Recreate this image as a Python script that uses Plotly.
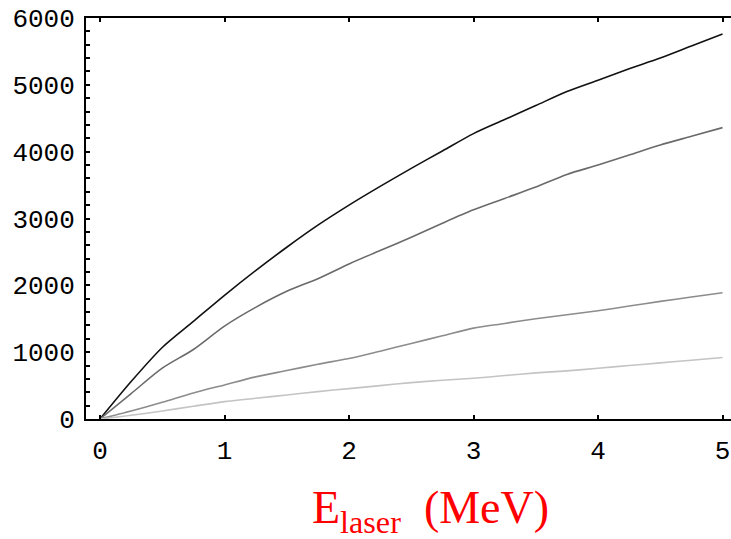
import plotly.graph_objects as go

x_vals = [0, 0.25, 0.5, 0.75, 1.0, 1.25, 1.5, 1.75, 2.0, 2.25, 2.5, 2.75, 3.0,
          3.25, 3.5, 3.75, 4.0, 4.25, 4.5, 4.75, 5.0]

series_1 = [0, 560, 1070, 1460, 1850, 2220, 2570, 2900, 3200, 3480, 3750, 4010,
            4270, 4480, 4690, 4900, 5070, 5240, 5400, 5580, 5760]
series_2 = [0, 380, 760, 1040, 1390, 1670, 1910, 2100, 2320, 2520, 2720, 2930,
            3130, 3300, 3470, 3660, 3800, 3950, 4100, 4230, 4360]
series_3 = [0, 120, 250, 390, 510, 630, 725, 820, 905, 1015, 1130, 1245,
            1360, 1430, 1500, 1560, 1620, 1690, 1760, 1825, 1890]
series_4 = [0, 55, 120, 190, 260, 310, 360, 410, 455, 500, 545, 580,
            610, 650, 690, 720, 760, 800, 840, 880, 920]

series = [series_1, series_2, series_3, series_4]
colors = ["#111111", "#6a6a6a", "#8c8c8c", "#c4c4c4"]

x_ticks = [0, 1, 2, 3, 4, 5]

fig = go.Figure()
for ys, c in zip(series, colors):
    fig.add_trace(go.Scatter(x=x_vals, y=ys, mode="lines",
                             line=dict(color=c, width=1.6, shape="spline",
                                       smoothing=0.8),
                             showlegend=False))

tick_font = dict(family="Liberation Mono", size=26, color="black")

fig.update_layout(
    width=731, height=539,
    margin=dict(l=86, r=0, t=18, b=120, autoexpand=False),
    paper_bgcolor="white", plot_bgcolor="white",
    xaxis=dict(range=[-0.1124, 5.068], tickvals=x_ticks, ticks="inside",
               ticklen=4, tickwidth=2, tickcolor="black", automargin=False,
               showline=True, linecolor="black", linewidth=2, mirror="ticks",
               showgrid=False, zeroline=False, tickfont=tick_font,
               ticklabeloverflow="allow", ticklabelstandoff=7),
    yaxis=dict(range=[0, 6000], dtick=1000, ticks="inside", ticklen=4,
               tickwidth=2, tickcolor="black", automargin=False,
               minor=dict(dtick=200, ticks="inside", ticklen=4, tickwidth=2,
                          tickcolor="black"),
               showline=True, linecolor="black", linewidth=2,
               showgrid=False, zeroline=False, tickfont=tick_font,
               ticklabeloverflow="allow", ticklabelstandoff=4),
    annotations=[dict(
        text="E<sub>laser</sub>\u00a0\u00a0(MeV)",
        xref="paper", yref="paper", x=0.534, y=-0.229,
        xanchor="center", yanchor="middle", showarrow=False,
        font=dict(family="Liberation Serif", size=46, color="red"))],
)

fig.write_html(
    "out.html",
    config={"displayModeBar": False},
    post_script="document.body.style.margin='0';"
                "document.body.style.overflow='hidden';",
)
